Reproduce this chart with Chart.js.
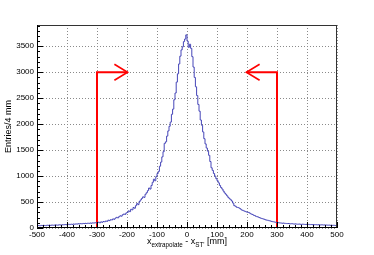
<!DOCTYPE html>
<html>
<head>
<meta charset="utf-8">
<script src="https://cdn.jsdelivr.net/npm/chart.js@4"></script>
<style>
  html, body { margin: 0; padding: 0; background: #fff; }
  canvas { display: block; }
</style>
</head>
<body>
<canvas id="grafic" width="374" height="255"></canvas>
<script>
// Histogram binning (mm)
const binLow = -500;
const binWidth = 4;

// Entries per 4 mm bin (250 bins, -500 .. 500)
const counts = [
  44, 48, 42, 50, 46, 52, 49, 45, 54, 51, 56, 50, 58, 53, 55, 60, 57, 54, 62, 59, 56, 64, 61, 67, 63,
  68, 72, 66, 74, 70, 77, 73, 79, 75, 82, 78, 85, 80, 88, 84, 90, 86, 93, 89, 96, 92, 99, 95, 102, 98,
  104, 112, 100, 118, 110, 125, 120, 135, 128, 150, 142, 160, 155, 175, 168, 190, 205, 195, 218, 235, 228, 255, 270, 262, 290,
  300, 330, 315, 360, 350, 395, 380, 430, 470, 450, 510, 540, 570, 600, 590, 650, 680, 720, 770, 750, 820, 880, 940, 910, 990,
  1050, 1090, 1190, 1270, 1370, 1470, 1630, 1660, 1770, 1870, 1960, 2040, 2190, 2290, 2470, 2600, 2810, 2970, 3160, 3310, 3430, 3490, 3590, 3640, 3720,
  3600, 3480, 3540, 3460, 3300, 3100, 2900, 2720, 2550, 2380, 2250, 2080, 1980, 1850, 1720, 1620, 1540, 1480, 1400, 1280, 1160, 1110, 1050, 1000, 950,
  910, 870, 820, 780, 750, 710, 675, 650, 620, 590, 565, 545, 520, 480, 430, 420, 400, 395, 385, 370, 350, 340, 330, 320, 310,
  305, 300, 285, 270, 262, 248, 240, 225, 218, 210, 200, 190, 182, 175, 168, 158, 152, 148, 140, 135, 128, 122, 118, 112, 108,
  105, 102, 98, 96, 92, 95, 90, 88, 85, 87, 82, 80, 84, 78, 76, 79, 75, 73, 77, 72, 70, 74, 71, 68, 70,
  67, 70, 65, 68, 64, 66, 62, 65, 60, 63, 61, 58, 62, 57, 59, 56, 58, 54, 57, 52, 55, 50, 53, 48, 46
];

// Axis ranges and tick labels
const xRange = [-500, 500];
const xTicks = [-500, -400, -300, -200, -100, 0, 100, 200, 300, 400, 500];
const xMinor = 20;
const yRange = [0, 3910];
const yTicks = [0, 500, 1000, 1500, 2000, 2500, 3000, 3500];
const yMinor = 100;

// Cut markers (red arrows)
const cuts = [-300, 300];
const arrowLevel = 3000;
const arrowLength = 102;
const headLength = 44;
const headHalf = 155;

const FONT = "'Liberation Sans', Helvetica, Arial, sans-serif";

// Histogram as left-edge points, stepped
const histPoints = counts.map((c, i) => ({ x: binLow + i * binWidth, y: c }));
histPoints.push({ x: binLow + counts.length * binWidth, y: counts[counts.length - 1] });

function cutLine(xc) {
  const dir = xc < 0 ? 1 : -1;
  return [
    { x: xc, y: 0 },
    { x: xc, y: arrowLevel },
    { x: xc + dir * arrowLength, y: arrowLevel }
  ];
}
function cutHead(xc) {
  const dir = xc < 0 ? 1 : -1;
  const tip = xc + dir * arrowLength;
  return [
    { x: tip - dir * headLength, y: arrowLevel + headHalf },
    { x: tip, y: arrowLevel },
    { x: tip - dir * headLength, y: arrowLevel - headHalf }
  ];
}

const redStyle = {
  borderColor: '#ff0000', borderWidth: 2, pointRadius: 0,
  borderJoinStyle: 'miter', tension: 0, fill: false
};

// Frame, inside tick marks and axis titles (ROOT style)
const marcIRetols = {
  id: 'marcIRetols',
  afterDatasetsDraw(chart) {
    const { ctx, chartArea: a, scales: { x, y } } = chart;
    ctx.save();
    ctx.strokeStyle = '#000';
    ctx.lineWidth = 1;

    // ticks on left axis
    for (let v = yRange[0]; v <= yRange[1]; v += yMinor) {
      const py = Math.round(y.getPixelForValue(v)) + 0.5;
      const len = yTicks.includes(v) ? 6 : 3;
      ctx.beginPath();
      ctx.moveTo(a.left, py);
      ctx.lineTo(a.left + len, py);
      ctx.stroke();
    }
    // ticks on bottom axis
    for (let v = xRange[0]; v <= xRange[1]; v += xMinor) {
      const px = Math.round(x.getPixelForValue(v)) + 0.5;
      const len = xTicks.includes(v) ? 6 : 3;
      ctx.beginPath();
      ctx.moveTo(px, a.bottom);
      ctx.lineTo(px, a.bottom - len);
      ctx.stroke();
    }

    // frame
    ctx.strokeStyle = '#333';
    ctx.strokeRect(a.left + 0.5, a.top + 0.5, a.right - a.left - 1, a.bottom - a.top - 1);
    ctx.strokeStyle = '#000';
    ctx.beginPath();
    ctx.moveTo(a.left + 0.5, a.top);
    ctx.lineTo(a.left + 0.5, a.bottom - 0.5);
    ctx.lineTo(a.right, a.bottom - 0.5);
    ctx.stroke();

    // y title
    ctx.fillStyle = '#000';
    ctx.save();
    ctx.translate(9, (a.top + a.bottom) / 2);
    ctx.rotate(-Math.PI / 2);
    ctx.font = '9px ' + FONT;
    ctx.textAlign = 'center';
    ctx.textBaseline = 'middle';
    ctx.fillText('Entries/4 mm', 0, 0);
    ctx.restore();

    // x title with subscripts
    const parts = [
      { t: 'x', size: 9, dy: 0 },
      { t: 'extrapolate', size: 6.3, dy: 2.5 },
      { t: ' - x', size: 9, dy: 0 },
      { t: "ST'", size: 6.3, dy: 2.5 },
      { t: ' [mm]', size: 9, dy: 0 }
    ];
    let total = 0;
    parts.forEach(p => {
      ctx.font = p.size + 'px ' + FONT;
      p.w = ctx.measureText(p.t).width;
      total += p.w;
    });
    let cx = 187 - total / 2;
    const base = 244;
    ctx.textAlign = 'left';
    ctx.textBaseline = 'alphabetic';
    parts.forEach(p => {
      ctx.font = p.size + 'px ' + FONT;
      ctx.fillText(p.t, cx, base + p.dy);
      cx += p.w;
    });
    ctx.restore();
  }
};

const ctx = document.getElementById('grafic').getContext('2d');
new Chart(ctx, {
  type: 'line',
  data: {
    datasets: [
      {
        data: histPoints,
        stepped: 'before',
        borderColor: '#4646b8',
        borderWidth: 1,
        pointRadius: 0,
        fill: false
      },
      { data: cutLine(cuts[0]), ...redStyle },
      { data: cutHead(cuts[0]), ...redStyle, borderWidth: 1.6 },
      { data: cutLine(cuts[1]), ...redStyle },
      { data: cutHead(cuts[1]), ...redStyle, borderWidth: 1.6 }
    ]
  },
  options: {
    responsive: false,
    animation: false,
    devicePixelRatio: 1,
    layout: { padding: { left: 0, top: 25, right: 37, bottom: 0 } },
    plugins: { legend: { display: false }, tooltip: { enabled: false } },
    scales: {
      x: {
        type: 'linear',
        min: xRange[0],
        max: xRange[1],
        afterFit: s => { s.height = 27; },
        afterBuildTicks: s => { s.ticks = xTicks.map(v => ({ value: v })); },
        grid: { color: '#8a8a8a', drawTicks: false, tickLength: 0 },
        border: { display: false, dash: [1, 2] },
        ticks: {
          padding: 2, color: '#000', font: { family: FONT, size: 8 },
          maxRotation: 0, autoSkip: false,
          callback: v => String(v)
        }
      },
      y: {
        min: yRange[0],
        max: yRange[1],
        afterFit: s => { s.width = 37; },
        afterBuildTicks: s => { s.ticks = yTicks.map(v => ({ value: v })); },
        grid: { color: '#8a8a8a', drawTicks: false, tickLength: 0 },
        border: { display: false, dash: [1, 2] },
        ticks: {
          padding: 3, color: '#000', font: { family: FONT, size: 8 },
          autoSkip: false,
          callback: v => String(v)
        }
      }
    }
  },
  plugins: [marcIRetols]
});
</script>
</body>
</html>
